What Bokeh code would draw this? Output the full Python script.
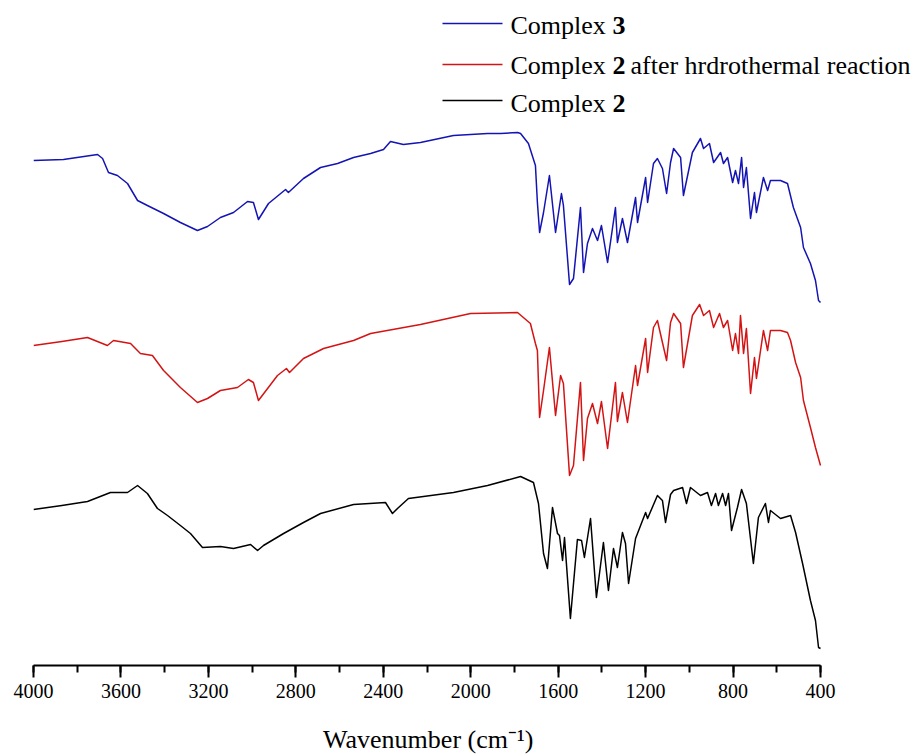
from bokeh.plotting import figure
from bokeh.models import Range1d, FixedTicker, Label, BoxAnnotation
from bokeh.embed import file_html
from bokeh.resources import INLINE

# ---- data (transmittance in arbitrary units, traces offset) ----
wn_c3 = [4000, 3863, 3707, 3684, 3657, 3616, 3570, 3524, 3479, 3405, 3328, 3250, 3204, 3145,
         3085, 3021, 2994, 2971, 2925, 2847, 2834, 2765, 2687, 2609, 2536, 2458, 2399, 2367,
         2308, 2230, 2079, 1923, 1864, 1786, 1772, 1736, 1704, 1695,
         1685, 1667, 1640, 1612, 1585, 1576, 1548, 1530, 1498, 1484, 1466, 1443, 1420, 1402,
         1374, 1338, 1329, 1306, 1283, 1246, 1237, 1200, 1191, 1164, 1146, 1123, 1104, 1086,
         1072, 1040, 1027, 986, 949, 935, 908, 889, 857, 844, 825, 802, 789, 775, 761, 752,
         739, 720, 702, 693, 661, 642, 629, 583, 551, 524, 491, 478, 446, 423, 409, 400]
t_c3 = [540, 541, 546, 542, 528, 525, 517, 500, 495, 487, 478, 470, 474, 483,
        488, 499, 498, 481, 497, 511, 508, 522, 533, 537, 543, 547, 551, 559,
        556, 558, 565, 567, 567, 568, 567, 557, 535, 498,
        468, 488, 525, 468, 507, 495, 416, 422, 493, 428, 457, 472, 460, 475,
        438, 493, 458, 482, 458, 503, 478, 523, 498, 537, 542, 532, 507, 538,
        552, 543, 505, 548, 562, 552, 557, 538, 548, 537, 543, 518, 530, 517, 543, 513,
        533, 482, 508, 488, 523, 510, 520, 520, 517, 493, 473, 453, 437, 420, 400, 398]

wn_c2h = [4000, 3870, 3753, 3662, 3634, 3556, 3511, 3456, 3405, 3328, 3250, 3204, 3145, 3067,
          3017, 2994, 2971, 2884, 2843, 2829, 2765, 2673, 2536, 2458, 2230, 2001, 1786, 1727,
          1704, 1695, 1685,
          1667, 1640, 1612, 1589, 1576, 1548, 1530, 1498, 1484, 1466, 1443, 1420, 1402, 1374,
          1338, 1329, 1306, 1283, 1246, 1237, 1200, 1191, 1164, 1146, 1123, 1104, 1086, 1072,
          1040, 1027, 986, 953, 935, 908, 889, 862, 844, 825, 802, 789, 775, 766, 752, 739,
          720, 702, 693, 661, 642, 629, 583, 551, 537, 514, 491, 478, 446, 423, 400]
t_c2h = [355, 359, 363, 355, 360, 357, 347, 345, 330, 313, 298, 302, 310, 313,
         321, 318, 300, 325, 332, 328, 342, 352, 360, 367, 376, 387, 388, 377,
         357, 350, 283,
         310, 353, 285, 325, 317, 225, 235, 318, 240, 282, 297, 277, 299, 252,
         318, 279, 308, 278, 335, 315, 362, 328, 373, 380, 358, 340, 378, 387,
         377, 333, 385, 396, 385, 390, 373, 387, 373, 380, 350, 367, 347, 385, 347, 372,
         307, 343, 322, 370, 350, 370, 370, 368, 360, 338, 323, 300, 273, 253, 235]

wn_c2 = [4000, 3870, 3753, 3648, 3570, 3524, 3479, 3433, 3387, 3328, 3282, 3227, 3145, 3085,
         3007, 2975, 2948, 2856, 2765, 2687, 2536, 2390, 2358, 2335, 2285, 2079, 1923, 1772,
         1713, 1690, 1667, 1649, 1626,
         1603, 1594, 1580, 1571, 1544, 1512, 1493, 1480, 1452, 1425, 1393, 1370, 1347, 1329,
         1306, 1292, 1278, 1246, 1200, 1191, 1146, 1123, 1109, 1086, 1072, 1031, 1013, 995,
         949, 917, 899, 880, 867, 848, 834, 821, 807, 780, 761, 739, 707, 684, 652, 638,
         629, 583, 537, 514, 482, 446, 423, 409, 400]
t_c2 = [191, 195, 199, 208, 208, 215, 207, 192, 185, 175, 167, 153, 154, 152,
        156, 150, 155, 167, 178, 187, 196, 198, 187, 192, 202, 208, 215, 224,
        218, 197, 147, 132, 193,
        167, 165, 140, 163, 82, 161, 160, 143, 182, 103, 158, 110, 152, 133,
        168, 157, 117, 162, 188, 182, 205, 200, 178, 206, 210, 213, 197, 213,
        205, 208, 195, 207, 195, 207, 195, 207, 170, 193, 211, 197, 137, 183, 197, 178,
        190, 182, 185, 168, 137, 100, 80, 53, 52]

x_ticks = [4000, 3600, 3200, 2800, 2400, 2000, 1600, 1200, 800, 400]
x_minor = [4000, 3800, 3600, 3400, 3200, 3000, 2800, 2600, 2400, 2200, 2000,
           1800, 1600, 1400, 1200, 1000, 800, 600, 400]

series = [
    ("Complex", "3", "", wn_c3, t_c3, "#1414b4"),
    ("Complex", "2", "after hrdrothermal reaction", wn_c2h, t_c2h, "#d41414"),
    ("Complex", "2", "", wn_c2, t_c2, "#000000"),
]
x_title = "Wavenumber (cm\u207b\u00b9)"

SERIF = "Liberation Serif"

# frame spans past 400 cm-1 so the legend text fits; the axis itself is bounded to 4000..400
p = figure(width=924, height=756, output_backend="svg", toolbar_location=None,
           x_range=Range1d(4000, -57.4), y_range=Range1d(35, 700),
           y_axis_location=None, min_border_left=33, min_border_right=4,
           min_border_top=0, min_border_bottom=91)
p.outline_line_color = None
p.xgrid.visible = False
p.ygrid.visible = False
p.background_fill_color = "white"
p.border_fill_color = "white"

for _, _, _, wn, t, col in series:
    p.line(wn, t, line_color=col, line_width=1.5, line_join="round")

ax = p.xaxis[0]
ax.bounds = (400, 4000)
ax.ticker = FixedTicker(ticks=x_ticks, minor_ticks=x_minor)
ax.axis_line_width = 2
ax.axis_line_color = "black"
ax.major_tick_line_width = 2
ax.minor_tick_line_width = 2
ax.major_tick_out = 12
ax.major_tick_in = 0
ax.minor_tick_out = 7
ax.minor_tick_in = 0
ax.major_label_text_font = SERIF
ax.major_label_text_font_size = "20px"
ax.major_label_text_color = "black"
ax.major_label_standoff = 6
# trailing no-break spaces shift the centred title under the bounded axis (4000..400)
ax.axis_label = x_title + "\u00a0" * 15
ax.axis_label_text_font = SERIF
ax.axis_label_text_font_size = "26px"
ax.axis_label_text_font_style = "normal"
ax.axis_label_text_color = "black"
ax.axis_label_standoff = 24

# ---- legend (screen units, relative to plot frame bottom-left) ----
line_y = [642, 601, 565]
base_y = [640, 600, 562]
for (lab, num, rest, _, _, col), ly, by in zip(series, line_y, base_y):
    p.add_layout(BoxAnnotation(left=409, right=469, bottom=ly - 0.75, top=ly + 0.75,
                               left_units="screen", right_units="screen",
                               bottom_units="screen", top_units="screen",
                               fill_color=col, fill_alpha=1.0, line_color=None))
    p.add_layout(Label(x=477, y=by, x_units="screen", y_units="screen", text=lab,
                       text_font=SERIF, text_font_size="26px", text_baseline="alphabetic",
                       text_color="black"))
    p.add_layout(Label(x=579, y=by, x_units="screen", y_units="screen", text=num,
                       text_font=SERIF, text_font_size="26px", text_font_style="bold",
                       text_baseline="alphabetic", text_color="black"))
    if rest:
        p.add_layout(Label(x=597, y=by, x_units="screen", y_units="screen", text=rest,
                           text_font=SERIF, text_font_size="26px", text_baseline="alphabetic",
                           text_color="black"))

open("out.html", "w").write(file_html(p, INLINE))
